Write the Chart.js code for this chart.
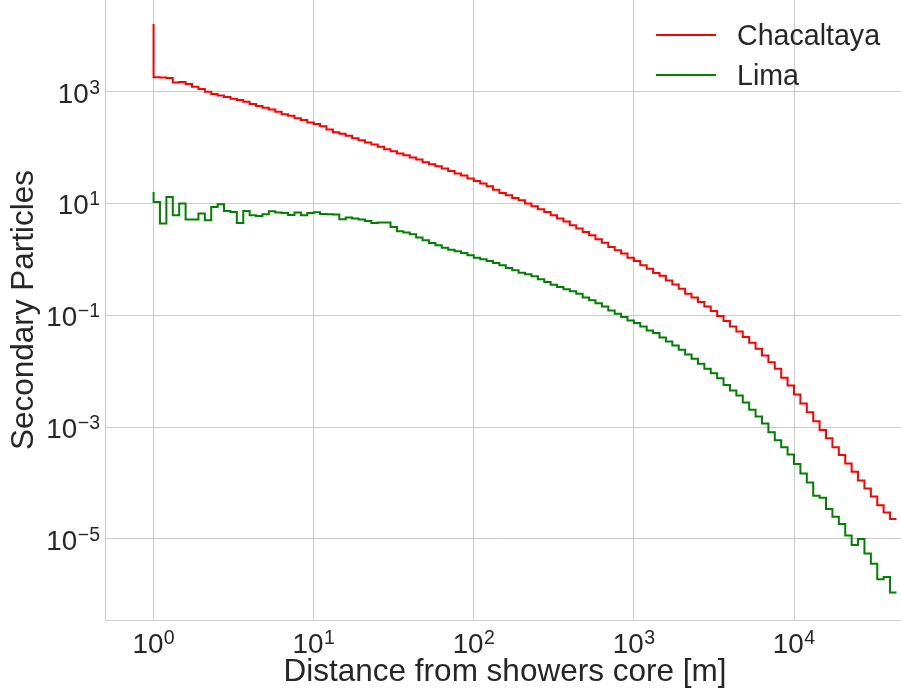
<!DOCTYPE html>
<html><head><meta charset="utf-8">
<script src="https://cdn.jsdelivr.net/npm/chart.js@4.4.0/dist/chart.umd.min.js"></script>
<style>html,body{margin:0;padding:0;background:#fff;}#wrap{width:901px;height:692px;position:relative;}</style>
</head><body><div id="wrap"><canvas id="c" width="901" height="692"></canvas></div>
<script>
// Histogram bin edges (distance from core, m), 25 log bins per decade
const binEdges = [
  1, 1.096, 1.202, 1.318, 1.445, 1.585, 1.738, 1.905, 2.089, 2.291, 2.512, 2.754, 3.020, 3.311, 3.631, 3.981, 4.365, 4.786, 5.248, 5.754, 6.310, 6.918, 7.586, 8.318, 9.120,
  10, 10.96, 12.02, 13.18, 14.45, 15.85, 17.38, 19.05, 20.89, 22.91, 25.12, 27.54, 30.20, 33.11, 36.31, 39.81, 43.65, 47.86, 52.48, 57.54, 63.10, 69.18, 75.86, 83.18, 91.20,
  100, 109.6, 120.2, 131.8, 144.5, 158.5, 173.8, 190.5, 208.9, 229.1, 251.2, 275.4, 302.0, 331.1, 363.1, 398.1, 436.5, 478.6, 524.8, 575.4, 631.0, 691.8, 758.6, 831.8, 912.0,
  1000, 1096, 1202, 1318, 1445, 1585, 1738, 1905, 2089, 2291, 2512, 2754, 3020, 3311, 3631, 3981, 4365, 4786, 5248, 5754, 6310, 6918, 7586, 8318, 9120,
  10000, 10965, 12023, 13183, 14454, 15849, 17378, 19055, 20893, 22909, 25119, 27542, 30200, 33113, 36308, 39811, 43652
];
// First value: core value (at first edge); the rest: bin contents
const chacaltaya = [
  16200,
  1800, 1790, 1745, 1460, 1480, 1360, 1220, 1110, 992, 902,
  855, 797, 743, 704, 657, 597, 550, 513, 480, 435,
  395, 369, 335, 309, 281, 262, 241, 210, 188, 176,
  162, 147, 135, 123, 113, 103, 93.4, 86.0, 78.3, 72.9,
  66.3, 61.1, 54.7, 50.3, 46.3, 42.2, 38.2, 34.3, 31.6, 27.9,
  25.3, 22.7, 20.3, 17.6, 15.4, 14.0, 12.5, 11.4, 9.96, 8.91,
  7.88, 7.04, 6.15, 5.37, 4.74, 4.07, 3.55, 3.09, 2.70, 2.29,
  1.99, 1.66, 1.45, 1.27, 1.07, 0.934, 0.782, 0.683, 0.570, 0.507,
  0.421, 0.357, 0.299, 0.244, 0.207, 0.172, 0.144, 0.119, 0.0968, 0.0787,
  0.0633, 0.0515, 0.0407, 0.0323, 0.0252, 0.0191, 0.0145, 0.01106, 0.00763, 0.00556,
  0.00383, 0.00265, 0.00185, 0.00128, 0.000887, 0.000633, 0.000437, 0.000317, 0.000223, 0.000160,
  0.0001106, 0.0000802, 0.0000577, 0.0000403, 0.0000299, 0.0000228
];
const lima = [
  16.1,
  10.6, 4.37, 13.1, 6.15, 9.96, 5.15, 5.15, 6.59, 5.00, 8.66,
  9.67, 7.34, 7.04, 4.48, 7.34, 6.15, 5.97, 6.41, 7.25, 6.87,
  6.76, 6.23, 6.87, 6.15, 6.76, 6.96, 6.49, 6.41, 6.33, 5.21,
  5.59, 5.37, 5.15, 4.86, 4.48, 4.55, 4.55, 3.80, 3.18, 3.01,
  2.81, 2.45, 2.19, 1.96, 1.78, 1.62, 1.49, 1.39, 1.30, 1.18,
  1.07, 1.00, 0.934, 0.860, 0.782, 0.700, 0.637, 0.579, 0.540, 0.497,
  0.439, 0.393, 0.353, 0.320, 0.291, 0.268, 0.244, 0.207, 0.185, 0.165,
  0.144, 0.122, 0.107, 0.0929, 0.0810, 0.0725, 0.0633, 0.0537, 0.0480, 0.0402,
  0.0341, 0.0289, 0.0242, 0.0200, 0.0167, 0.0136, 0.01106, 0.00923, 0.00751, 0.00567,
  0.00452, 0.00368, 0.00276, 0.00205, 0.00155, 0.00116, 0.000810, 0.000583, 0.000437, 0.000323,
  0.000220, 0.000148, 0.000102, 0.0000596, 0.0000549, 0.0000345, 0.0000251, 0.0000186, 0.0000115, 0.0000078,
  0.0000100, 0.0000055, 0.0000036, 0.0000019, 0.0000021, 0.0000011
];
const seriesNames = ['Chacaltaya', 'Lima'];
const seriesColors = ['#ff0000', '#008000'];
const xTickValues = [1, 10, 100, 1000, 10000];
const xTickExponents = ['0', '1', '2', '3', '4'];
const yTickValues = [1e-5, 1e-3, 1e-1, 1e1, 1e3];
const yTickExponents = ['\u22125', '\u22123', '\u22121', '1', '3'];
const xAxisTitle = 'Distance from showers core [m]';
const yAxisTitle = 'Secondary Particles';

const toPoints = vals => vals.map((v, i) => ({ x: binEdges[i], y: v }));
const FONT = '"Liberation Sans", Arial, sans-serif';
const TEXT = '#262626';

const textPlugin = {
  id: 'mplText',
  afterDraw(chart) {
    const ctx = chart.ctx, xs = chart.scales.x, ys = chart.scales.y, area = chart.chartArea;
    ctx.save();
    ctx.fillStyle = TEXT;
    ctx.textBaseline = 'alphabetic';
    ctx.textAlign = 'left';
    const base = '27.8px ' + FONT, sup = '19.5px ' + FONT;
    function widths(exp) {
      ctx.font = base; const w1 = ctx.measureText('10').width;
      ctx.font = sup; const w2 = ctx.measureText(exp).width;
      return [w1, w2];
    }
    function drawPow(exp, left, baseline) {
      const [w1] = widths(exp);
      ctx.font = base; ctx.fillText('10', left, baseline);
      ctx.font = sup; ctx.fillText(exp, left + w1 + 0.5, baseline - 9);
    }
    xTickValues.forEach((v, i) => {
      const px = xs.getPixelForValue(v);
      const [w1, w2] = widths(xTickExponents[i]);
      drawPow(xTickExponents[i], px - (w1 + 0.5 + w2) / 2, 653);
    });
    yTickValues.forEach((v, i) => {
      const py = ys.getPixelForValue(v);
      const [w1, w2] = widths(yTickExponents[i]);
      drawPow(yTickExponents[i], area.left - 5 - (w1 + 0.5 + w2), py + 11);
    });
    // axis titles
    ctx.font = '31.5px ' + FONT;
    ctx.textAlign = 'center';
    ctx.fillText(xAxisTitle, 505, 681);
    ctx.save();
    ctx.translate(33, (area.top + area.bottom) / 2);
    ctx.rotate(-Math.PI / 2);
    ctx.fillText(yAxisTitle, 0, 0);
    ctx.restore();
    // legend
    ctx.font = '28.6px ' + FONT;
    ctx.textAlign = 'left';
    chart.data.datasets.forEach((ds, i) => {
      const yy = 35 + i * 40;
      ctx.strokeStyle = ds.borderColor; ctx.lineWidth = 2;
      ctx.beginPath(); ctx.moveTo(656, yy); ctx.lineTo(716, yy); ctx.stroke();
      ctx.fillStyle = TEXT;
      ctx.fillText(ds.label, 737, yy + 10);
    });
    ctx.restore();
  }
};

new Chart(document.getElementById('c'), {
  type: 'line',
  data: {
    datasets: [
      { label: seriesNames[0], data: toPoints(chacaltaya), borderColor: seriesColors[0], backgroundColor: seriesColors[0], borderWidth: 2, stepped: 'after', pointRadius: 0, fill: false },
      { label: seriesNames[1], data: toPoints(lima), borderColor: seriesColors[1], backgroundColor: seriesColors[1], borderWidth: 2, stepped: 'after', pointRadius: 0, fill: false }
    ]
  },
  options: {
    responsive: false,
    animation: false,
    devicePixelRatio: 1,
    layout: { padding: { left: 105, right: 0, top: 0, bottom: 72 } },
    plugins: { legend: { display: false }, tooltip: { enabled: false } },
    scales: {
      x: {
        type: 'logarithmic', min: 0.4972, max: 46590,
        afterBuildTicks: s => { s.ticks = xTickValues.map(v => ({ value: v })); },
        ticks: { display: false },
        grid: { color: '#cccccc', lineWidth: 1, drawTicks: false },
        border: { display: true, color: '#cccccc', width: 1 }
      },
      y: {
        type: 'logarithmic', min: 3.56e-7, max: 43430,
        afterBuildTicks: s => { s.ticks = yTickValues.map(v => ({ value: v })); },
        ticks: { display: false },
        grid: { color: '#cccccc', lineWidth: 1, drawTicks: false },
        border: { display: true, color: '#cccccc', width: 1 }
      }
    }
  },
  plugins: [textPlugin]
});
</script></body></html>
